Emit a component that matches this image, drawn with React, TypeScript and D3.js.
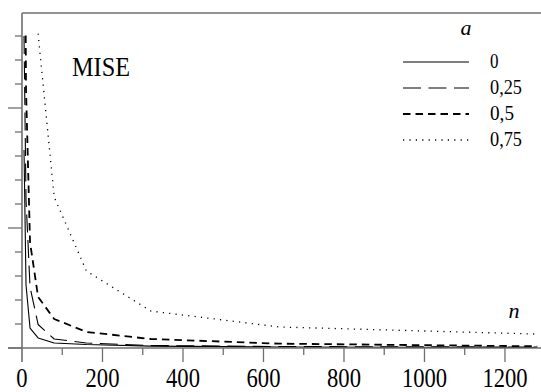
import React from "react";
import * as d3 from "d3";

const nValues = [5, 10, 20, 40, 80, 160, 320, 640, 1280];
const nDotted = [40, 80, 160, 320, 640, 1280];

const mise0 = [0.825, 0.2625, 0.083, 0.042, 0.021, 0.0146, 0.008, 0.004, 0.002];
const mise025 = [1.3, 0.617, 0.254, 0.098, 0.0375, 0.021, 0.0104, 0.006, 0.004];
const mise05 = [2.5, 1.075, 0.44, 0.2125, 0.121, 0.067, 0.0375, 0.018, 0.007];
const mise075 = [1.31, 0.629, 0.321, 0.154, 0.0875, 0.058];

const legendLabels = ["0", "0,25", "0,5", "0,75"];
const xTickLabels = [0, 200, 400, 600, 800, 1000, 1200];
const xMinorTicks = [100, 300, 500, 700, 900, 1100];
const yMajorTicks = [0, 0.5, 1.0];
const yMinorTicks = [0.1, 0.2, 0.3, 0.4, 0.6, 0.7, 0.8, 0.9, 1.1, 1.2, 1.3];

const styles = [
  { dash: undefined, width: 1.1 },
  { dash: "18 7.5", width: 1.1 },
  { dash: "7.5 5", width: 1.8 },
  { dash: "1.2 5.2", width: 1.3 },
];

const serif = { fontFamily: `"Liberation Serif"` };
const serifItalic = { fontFamily: `"Liberation Serif"`, fontStyle: "italic" };

export default function App() {
  const W = 541;
  const H = 392;
  const x = d3.scaleLinear().domain([0, 1290]).range([22, 541.2]);
  const y = d3.scaleLinear().domain([0, 1.4]).range([348, 12]);
  const line = d3
    .line<[number, number]>()
    .x((d) => x(d[0]))
    .y((d) => y(d[1]));

  const series = [
    { ns: nValues, vs: mise0 },
    { ns: nValues, vs: mise025 },
    { ns: nValues, vs: mise05 },
    { ns: nDotted, vs: mise075 },
  ];

  const axisColor = "#6f6f6f";

  return (
    <svg width={W} height={H} style={{ position: "absolute", left: 0, top: 0 }}>
      {series.map((s, i) => (
        <path
          key={"s" + i}
          d={line(s.ns.map((n, j) => [n, s.vs[j]] as [number, number])) || ""}
          fill="none"
          stroke="#000"
          strokeWidth={styles[i].width}
          strokeDasharray={styles[i].dash}
          strokeLinejoin="round"
        />
      ))}
      <rect x={0} y={0} width={W} height={33} fill="#fff" />
      <line x1={22} x2={W} y1={13} y2={13} stroke={axisColor} strokeWidth={1.5} />
      <line x1={8} x2={W} y1={348} y2={348} stroke={axisColor} strokeWidth={1.6} />
      <line x1={22} x2={22} y1={13} y2={362} stroke={axisColor} strokeWidth={1.6} />
      {xTickLabels.map((t) =>
        t !== 0 ? (
          <line key={"xt" + t} x1={x(t)} x2={x(t)} y1={348} y2={362} stroke={axisColor} strokeWidth={1.3} />
        ) : null
      )}
      {xMinorTicks.map((t) => (
        <line key={"xm" + t} x1={x(t)} x2={x(t)} y1={348} y2={355} stroke={axisColor} strokeWidth={1.3} />
      ))}
      {yMajorTicks.map((t) => (
        <line key={"ym" + t} x1={8} x2={22} y1={y(t)} y2={y(t)} stroke={axisColor} strokeWidth={1.3} />
      ))}
      {yMinorTicks.map((t) => (
        <line key={"yn" + t} x1={15} x2={22} y1={y(t)} y2={y(t)} stroke={axisColor} strokeWidth={1.3} />
      ))}
      {legendLabels.map((lab, i) => (
        <line
          key={"ll" + i}
          x1={403}
          x2={469}
          y1={62 + i * 26}
          y2={62 + i * 26}
          stroke="#000"
          strokeWidth={styles[i].width}
          strokeDasharray={styles[i].dash}
        />
      ))}
      {xTickLabels.map((t) => (
        <text
          key={"xl" + t}
          x={x(t)}
          y={387}
          textAnchor="middle"
          fontSize={27}
          style={serif}
          textLength={String(t).length * 11.3}
          lengthAdjust="spacingAndGlyphs"
        >
          {t}
        </text>
      ))}
      <text x={72} y={76} fontSize={27} style={serif} textLength={58} lengthAdjust="spacingAndGlyphs">
        MISE
      </text>
      <text x={466} y={35} textAnchor="middle" fontSize={22} style={serifItalic}>
        a
      </text>
      <text x={514} y={318} textAnchor="middle" fontSize={22} style={serifItalic}>
        n
      </text>
      {legendLabels.map((lab, i) => (
        <text
          key={"lt" + i}
          x={490}
          y={68 + i * 26}
          fontSize={20}
          style={serif}
          textLength={lab.length === 1 ? 8.5 : lab.length * 8}
          lengthAdjust="spacingAndGlyphs"
        >
          {lab}
        </text>
      ))}
    </svg>
  );
}
